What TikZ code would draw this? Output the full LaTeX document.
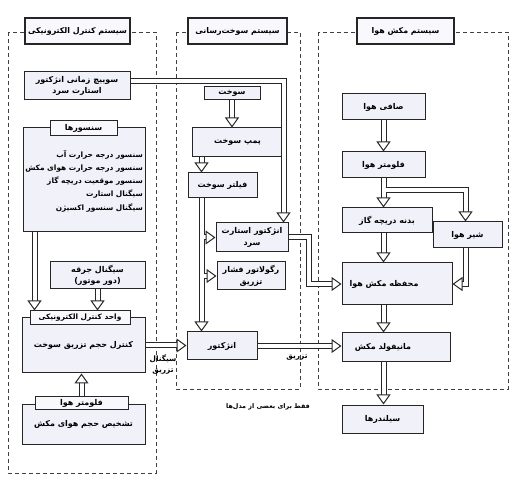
\documentclass[tikz,border=0pt]{standalone}
\usepackage{fontspec}
\usetikzlibrary{arrows.meta,positioning}
\newfontfamily\fafont[Script=Arabic]{DejaVu Sans}
\TeXXeTstate=1
\newcommand{\rl}[1]{\beginR#1\endR}
\definecolor{boxfill}{RGB}{241,241,250}
\definecolor{headfill}{RGB}{248,248,253}
\tikzstyle{box}=[draw=black!85, line width=1pt, fill=boxfill, inner sep=1pt, align=center, font=\fafont\bfseries\fontsize{8}{11.5}\selectfont]
\tikzstyle{head}=[box, fill=headfill]
\tikzstyle{title}=[box, fill=headfill, line width=1.3pt, font=\fafont\bfseries\fontsize{7.9}{11}\selectfont]
\tikzstyle{txt}=[inner sep=1pt, font=\fafont\bfseries\fontsize{8}{11}\selectfont]
\tikzstyle{sys}=[draw=black!75, line width=0.9pt, dash pattern=on 4pt off 3pt]
\tikzstyle{flow}=[white, line width=1.2pt, -{Triangle[color=black!85, fill=white, width=14pt, length=10pt, line width=1pt]}, preaction={draw=black!85, double=white, double distance=4pt, line width=1pt, arrows=-, shorten >=9pt}]
\begin{document}
\begin{tikzpicture}[x=1pt,y=-1pt]
\useasboundingbox (0,0) rectangle (515,492);

\draw[sys] (8,32) rectangle (156,473);
\draw[sys] (176,32) rectangle (300,389);
\draw[sys] (318,32) rectangle (508,389);
\node[title, minimum width=105, minimum height=26] (sysecu) at (77.5,31) {\rl{سیستم کنترل الکترونیکی}};
\node[title, minimum width=99, minimum height=26] (sysfuel) at (237.5,31) {\rl{سیستم سوخت‌رسانی}};
\node[title, minimum width=97, minimum height=26] (sysair) at (405.5,31) {\rl{سیستم مکش هوا}};

% electronic control
\node[box, minimum width=106, minimum height=28] (switch) at (77,86) {\rl{سوییچ زمانی انژکتور}\\\rl{استارت سرد}};
\node[box, minimum width=122, minimum height=104] (sensors) at (84,180) {};
\node[head, minimum width=67, minimum height=15] (sensorshead) at (83.5,128.5) {\rl{سنسورها}};
\node[txt, anchor=north east, align=right, font=\fafont\bfseries\fontsize{7.4}{13.2}\selectfont] (sensorlist) at (144,149)
  {\rl{سنسور درجه حرارت آب}\\\rl{سنسور درجه حرارت هوای مکش}\\\rl{سنسور موقعیت دریچه گاز}\\\rl{سیگنال استارت}\\\rl{سیگنال سنسور اکسیژن}};
\node[box, minimum width=95, minimum height=27] (spark) at (97.5,275.5) {\rl{سیگنال جرقه}\\\rl{(دور موتور)}};
\node[box, minimum width=123, minimum height=55] (ecu) at (83.5,345.5) {\rl{کنترل حجم تزریق سوخت}};
\node[head, minimum width=100, minimum height=14, font=\fafont\bfseries\fontsize{7.4}{11}\selectfont] (ecuhead) at (80,318) {\rl{واحد کنترل الکترونیکی}};
\node[box, minimum width=123, minimum height=40] (airmass) at (83.5,424) {\rl{تشخیص حجم هوای مکش}};
\node[head, minimum width=93, minimum height=13] (airmasshead) at (81.5,403) {\rl{فلومتر هوا}};

% fuel system
\node[box, minimum width=56, minimum height=13] (fuel) at (232,93.5) {\rl{سوخت}};
\node[box, minimum width=91, minimum height=29] (pump) at (237.5,142.5) {\rl{پمپ سوخت}};
\node[box, minimum width=69, minimum height=25] (filter) at (222.5,185.5) {\rl{فیلتر سوخت}};
\node[box, minimum width=72, minimum height=29] (coldinj) at (252,237.5) {\rl{انژکتور استارت}\\\rl{سرد}};
\node[box, minimum width=68, minimum height=28] (regulator) at (251,276) {\rl{رگولاتور فشار}\\\rl{تزریق}};
\node[box, minimum width=70, minimum height=28] (injector) at (222,346) {\rl{انژکتور}};

% air intake
\node[box, minimum width=83, minimum height=26] (airfilter) at (383.5,107) {\rl{صافی هوا}};
\node[box, minimum width=83, minimum height=26] (airmeter) at (383.5,165) {\rl{فلومتر هوا}};
\node[box, minimum width=90, minimum height=25] (throttle) at (387,220.5) {\rl{بدنه دریچه گاز}};
\node[box, minimum width=69, minimum height=26] (airvalve) at (467.5,235) {\rl{شیر هوا}};
\node[box, minimum width=110, minimum height=42] (plenum) at (397,284) {\rl{محفظه مکش هوا}\hspace*{26pt}};
\node[box, minimum width=108, minimum height=29] (manifold) at (396,347.5) {\rl{مانیفولد مکش}\hspace*{26pt}};
\node[box, minimum width=81, minimum height=28] (cylinders) at (382.5,419) {\rl{سیلندرها}};

\node[txt, align=center, font=\fafont\bfseries\fontsize{7.4}{11}\selectfont] (siglabel) at (163,365) {\rl{سیگنال}\\\rl{تزریق}};
\node[txt, font=\fafont\bfseries\fontsize{7.4}{11}\selectfont] (injlabel) at (297,358) {\rl{تزریق}};
\node[txt, font=\fafont\bfseries\fontsize{6.4}{9}\selectfont] (note) at (268,407) {\rl{فقط برای بعضی از مدل‌ها}};

\coordinate (fline) at ([xshift=14pt]filter.south west);

\draw[flow] ([xshift=12pt]sensors.south west) -- ([xshift=12pt]sensors.south west |- ecuhead.north);
\draw[flow] (spark.south) -- (spark.south |- ecuhead.north);
\draw[flow] (airmasshead.north) -- (airmasshead.north |- ecu.south);
\draw[flow] (ecu.east) -- (ecu.east -| injector.west);
\draw[flow] ([yshift=5pt]switch.east) -| ([xshift=-5pt]coldinj.north east);
\draw[flow] (fuel.south) -- (fuel.south |- pump.north);
\draw[flow] ([xshift=10pt]pump.south west) -- ([xshift=10pt]pump.south west |- filter.north);
\draw[flow] (fline) -- (fline |- injector.north);
\draw[flow] ([xshift=2pt]fline |- coldinj.west) -- (coldinj.west);
\draw[flow] ([xshift=2pt]fline |- regulator.west) -- (regulator.west);
\draw[flow] (coldinj.east) -- ++(20,0) |- (plenum.west);
\draw[flow] (injector.east) -- (injector.east -| manifold.west);
\draw[flow] (airfilter.south) -- (airmeter.north);
\draw[flow] (airmeter.south) -- (airmeter.south |- throttle.north);
\draw[flow] ([shift={(2,12)}]airmeter.south) -| ([xshift=-2pt]airvalve.north);
\draw[flow] (airmeter.south |- throttle.south) -- (airmeter.south |- plenum.north);
\draw[flow] ([xshift=-2pt]airvalve.south) |- (plenum.east);
\draw[flow] (airmeter.south |- plenum.south) -- (airmeter.south |- manifold.north);
\draw[flow] (airmeter.south |- manifold.south) -- (airmeter.south |- cylinders.north);

\end{tikzpicture}
\end{document}
